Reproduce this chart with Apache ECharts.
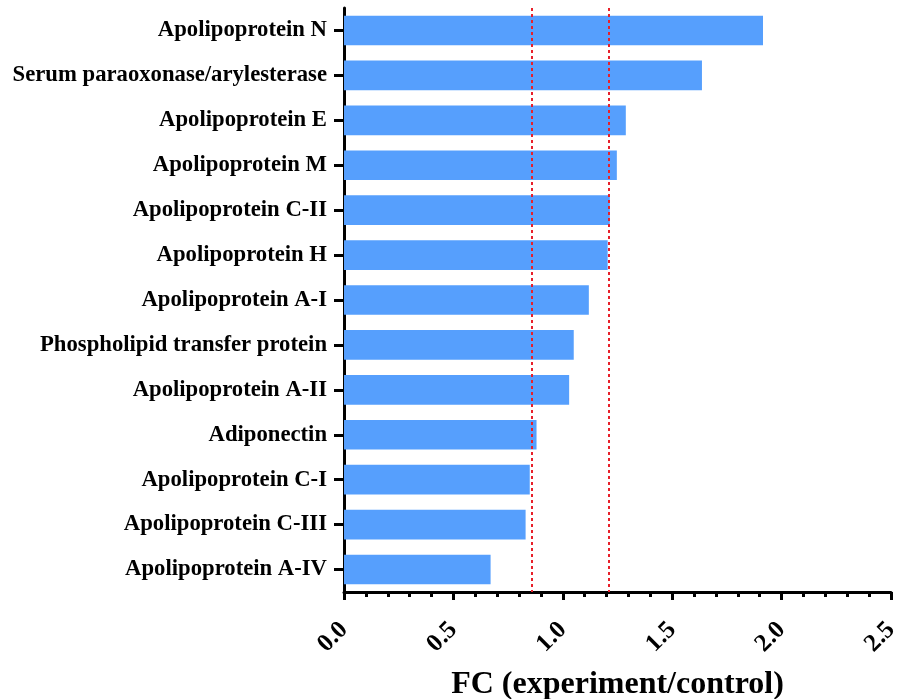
<!DOCTYPE html>
<html>
<head>
<meta charset="utf-8">
<script src="https://cdn.jsdelivr.net/npm/echarts@6/dist/echarts.min.js"></script>
<style>html,body{margin:0;padding:0;background:#fff}#c{width:909px;height:699px}</style>
</head>
<body>
<div id="c"></div>
<script>
const categories = [
  "Apolipoprotein N",
  "Serum paraoxonase/arylesterase",
  "Apolipoprotein E",
  "Apolipoprotein M",
  "Apolipoprotein C-II",
  "Apolipoprotein H",
  "Apolipoprotein A-I",
  "Phospholipid transfer protein",
  "Apolipoprotein A-II",
  "Adiponectin",
  "Apolipoprotein C-I",
  "Apolipoprotein C-III",
  "Apolipoprotein A-IV"
];
const fcValues = [1.915, 1.636, 1.288, 1.247, 1.215, 1.205, 1.119, 1.05, 1.029, 0.88, 0.849, 0.83, 0.67];
const thresholds = [0.857, 1.205];
const xTicks = [0, 0.5, 1.0, 1.5, 2.0, 2.5];

const font = "'Liberation Serif', 'Times New Roman', serif";
const chart = echarts.init(document.getElementById('c'), null, {renderer: 'canvas'});
chart.setOption({
  animation: false,
  backgroundColor: '#fff',
  grid: {left: 344, right: 18, top: 8, bottom: 107, containLabel: false, outerBoundsMode: 'none'},
  xAxis: {
    type: 'value',
    min: xTicks[0], max: xTicks[xTicks.length - 1], interval: 0.5,
    splitLine: {show: false},
    axisLine: {show: true, lineStyle: {color: '#000', width: 3}},
    axisTick: {show: true, length: 8, lineStyle: {color: '#000', width: 3}},
    minorTick: {show: true, splitNumber: 5, length: 5, lineStyle: {color: '#000', width: 3}},
    axisLabel: {
      rotate: 45, margin: 34, fontFamily: font, fontWeight: 'bold', fontSize: 25, color: '#000',
      formatter: v => v.toFixed(1)
    },
    name: 'FC (experiment/control)',
    nameLocation: 'middle', nameGap: 77,
    nameTextStyle: {fontFamily: font, fontWeight: 'bold', fontSize: 32, color: '#000', verticalAlign: 'top'}
  },
  yAxis: {
    type: 'category',
    inverse: true,
    data: categories,
    axisLine: {show: true, lineStyle: {color: '#000', width: 3}},
    axisTick: {show: true, alignWithLabel: true, length: 10, lineStyle: {color: '#000', width: 3}},
    axisLabel: {margin: 17, fontFamily: font, fontWeight: 'bold', fontSize: 22.7, color: '#000'}
  },
  series: [{
    type: 'bar',
    data: fcValues,
    barCategoryGap: '34%',
    itemStyle: {color: '#569FFD'},
    markLine: {
      silent: true,
      symbol: 'none',
      label: {show: false},
      lineStyle: {color: '#E8202A', type: [3, 3], width: 2},
      data: thresholds.map(t => ({xAxis: t}))
    }
  }]
});
</script>
</body>
</html>
